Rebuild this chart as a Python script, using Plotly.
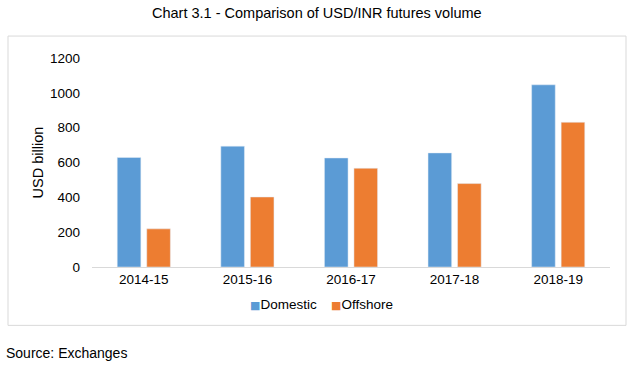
import plotly.graph_objects as go

years = ["2014-15", "2015-16", "2016-17", "2017-18", "2018-19"]
domestic = [629, 694, 626, 655, 1046]
offshore = [219, 402, 567, 479, 831]
y_ticks = [0, 200, 400, 600, 800, 1000, 1200]
series_names = ["Domestic", "Offshore"]
series_colors = ["#5B9BD5", "#ED7D31"]

FONT = "Liberation Sans, Arial, sans-serif"

fig = go.Figure()
fig.add_trace(go.Bar(name=series_names[0], x=years, y=domestic, marker_color=series_colors[0]))
fig.add_trace(go.Bar(name=series_names[1], x=years, y=offshore, marker_color=series_colors[1]))

# plot area: x 92..610, y 58..267.5
L, R, T, B = 92, 24, 58, 99.5
W, H = 634, 367
pw, ph = W - L - R, H - T - B

def px(x):
    return (x - L) / pw

def py(y):
    return (H - B - y) / ph

annotations = [
    dict(text="Chart 3.1 - Comparison of USD/INR futures volume", xref="paper", yref="paper",
         x=px(317), y=py(13), xanchor="center", yanchor="middle", showarrow=False,
         font=dict(size=14.5, family=FONT)),
    dict(text="Source: Exchanges", xref="paper", yref="paper",
         x=px(4), y=py(354), xanchor="left", yanchor="middle", showarrow=False,
         font=dict(size=14, family=FONT)),
]
# custom legend (compact square + label)
legend_x = [248, 329]
for name, color, lx in zip(series_names, series_colors, legend_x):
    annotations.append(dict(
        text=f"<span style='color:{color};font-family:DejaVu Sans;font-size:11px'>■</span>{name}",
        xref="paper", yref="paper", x=px(lx), y=py(305), xanchor="left", yanchor="middle",
        showarrow=False, font=dict(size=13.5, family=FONT)))

fig.update_layout(
    width=W, height=H,
    margin=dict(l=L, r=R, t=T, b=B),
    paper_bgcolor="white", plot_bgcolor="white",
    barmode="group", bargap=0.43, bargroupgap=0.2,
    font=dict(family=FONT, size=13.5, color="#000000"),
    showlegend=False,
    xaxis=dict(showline=True, linecolor="#D9D9D9", linewidth=1, ticks="", showgrid=False,
               tickfont=dict(size=13.5, family=FONT), fixedrange=True),
    yaxis=dict(range=[0, 1200], tickvals=y_ticks, showgrid=False, zeroline=False, showline=False,
               ticks="", ticklabelstandoff=11,
               title=dict(text="USD billion", font=dict(size=14.5, family=FONT), standoff=2),
               tickfont=dict(size=13.5, family=FONT)),
    shapes=[dict(type="rect", xref="paper", yref="paper",
                 x0=px(8), x1=px(626), y0=py(326), y1=py(36),
                 line=dict(color="#D9D9D9", width=1), fillcolor="rgba(0,0,0,0)", layer="below")],
    annotations=annotations,
)

fig.write_html("out.html", config={"displayModeBar": False},
               post_script="document.body.style.margin='0';document.body.style.overflow='hidden';")
